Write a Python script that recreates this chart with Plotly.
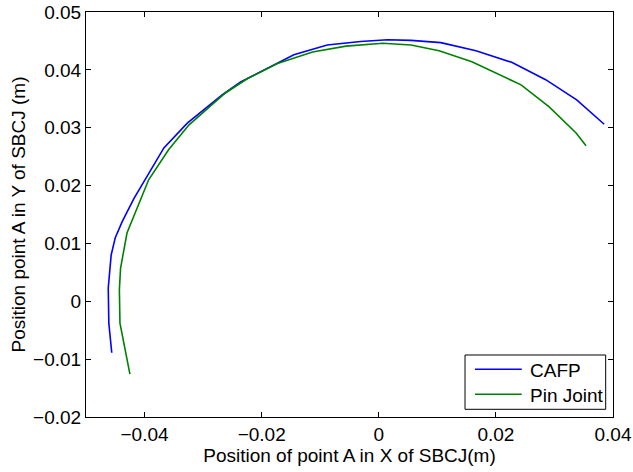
import plotly.graph_objects as go

# CAFP trajectory (m)
cafp_x = [-0.0456, -0.0461, -0.0462, -0.0457, -0.0450, -0.0438, -0.0418, -0.0397,
          -0.0367, -0.0327, -0.0296, -0.0267, -0.0236, -0.0185, -0.0145, -0.0088,
          -0.0031, 0.0015, 0.0055, 0.0106, 0.0166, 0.0227, 0.0285, 0.0338, 0.0385]
cafp_y = [-0.0089, -0.0038, 0.0023, 0.0080, 0.0110, 0.0138, 0.0178, 0.0213,
          0.0265, 0.0308, 0.0334, 0.0357, 0.0379, 0.0406, 0.0426, 0.0443,
          0.0449, 0.0452, 0.0451, 0.0447, 0.0433, 0.0413, 0.0383, 0.0348, 0.0306]

# Pin Joint trajectory (m)
pin_x = [-0.0425, -0.0435, -0.0442, -0.0443, -0.0441, -0.0430, -0.0407, -0.0393,
         -0.0359, -0.0324, -0.0262, -0.0224, -0.0173, -0.0113, -0.0056, 0.0007,
         0.0055, 0.0103, 0.0159, 0.0243, 0.0291, 0.0337, 0.0354]
pin_y = [-0.0126, -0.0072, -0.0038, 0.0020, 0.0057, 0.0118, 0.0175, 0.0210,
         0.0262, 0.0305, 0.0360, 0.0385, 0.0411, 0.0431, 0.0441, 0.0446,
         0.0443, 0.0433, 0.0414, 0.0374, 0.0336, 0.0291, 0.0269]

series_names = ["CAFP", "Pin Joint"]
series_colors = ["rgb(0,0,255)", "rgb(0,128,0)"]

x_range = [-0.05, 0.04]
y_range = [-0.02, 0.05]
x_ticks = [-0.04, -0.02, 0, 0.02, 0.04]
x_ticklabels = ["\u22120.04", "\u22120.02", "0", "0.02", "0.04"]
y_ticks = [-0.02, -0.01, 0, 0.01, 0.02, 0.03, 0.04, 0.05]
y_ticklabels = ["\u22120.02", "\u22120.01", "0", "0.01", "0.02", "0.03", "0.04", "0.05"]

FONT = "Liberation Sans, Arial, sans-serif"
FS = 19

fig = go.Figure()
for xs, ys, nm, col in [(cafp_x, cafp_y, series_names[0], series_colors[0]),
                        (pin_x, pin_y, series_names[1], series_colors[1])]:
    fig.add_trace(go.Scatter(x=xs, y=ys, mode="lines", name=nm,
                             line=dict(color=col, width=1.6), showlegend=False))

axis_common = dict(showgrid=False, zeroline=False, showline=True, linecolor="black",
                   linewidth=1, mirror="ticks", ticks="inside", ticklen=5,
                   tickcolor="black", automargin=False,
                   tickfont=dict(family=FONT, size=FS, color="black"))

# Legend box drawn in paper coordinates (MATLAB-style compact legend)
shapes = [dict(type="rect", xref="paper", yref="paper", x0=0.7192, x1=0.9861,
               y0=0.019, y1=0.1531, line=dict(color="black", width=1),
               fillcolor="white", layer="above")]
annotations = []
leg_rows_y = [0.1178, 0.0560]
for nm, col, yy in zip(series_names, series_colors, leg_rows_y):
    shapes.append(dict(type="line", xref="paper", yref="paper", x0=0.7381, x1=0.8268,
                       y0=yy, y1=yy, line=dict(color=col, width=1.6), layer="above"))
    annotations.append(dict(xref="paper", yref="paper", x=0.838, y=yy - 0.004,
                            xanchor="left", yanchor="middle", text=nm, showarrow=False,
                            font=dict(family=FONT, size=FS, color="black")))

fig.update_layout(
    width=633, height=472,
    margin=dict(l=86, r=20, t=12, b=55),
    paper_bgcolor="white", plot_bgcolor="white",
    font=dict(family=FONT, size=FS, color="black"),
    xaxis=dict(range=x_range, tickvals=x_ticks, ticktext=x_ticklabels,
               title=dict(text="Position of point A in X of SBCJ(m)",
                          font=dict(family=FONT, size=FS), standoff=2),
               **axis_common),
    yaxis=dict(range=y_range, tickvals=y_ticks, ticktext=y_ticklabels,
               title=dict(text="Position point A in Y of SBCJ (m)",
                          font=dict(family=FONT, size=FS), standoff=2),
               **axis_common),
    shapes=shapes,
    annotations=annotations,
    showlegend=False,
)

fig.write_html("out.html")
